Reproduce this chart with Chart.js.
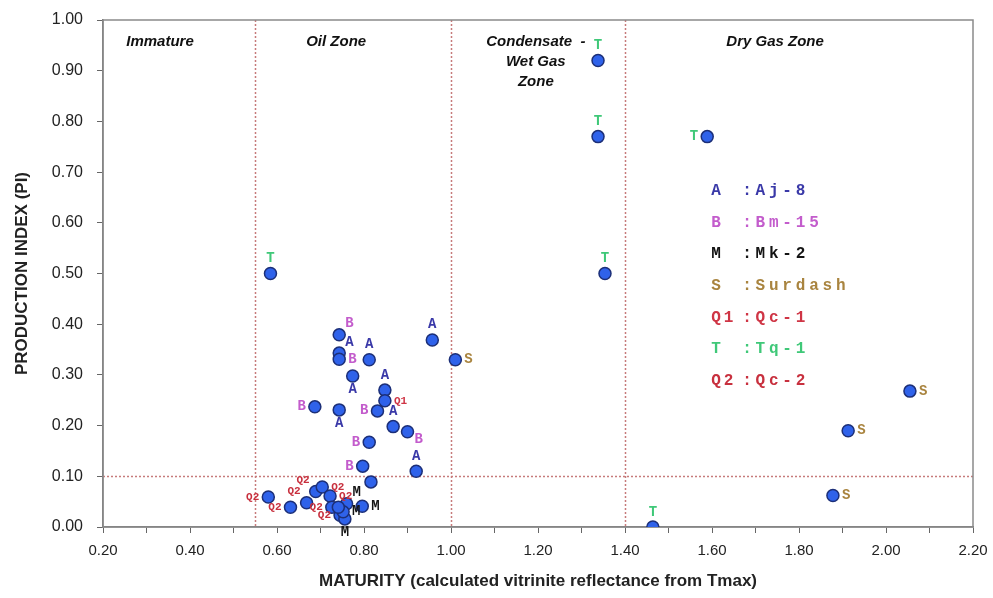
<!DOCTYPE html>
<html><head><meta charset="utf-8">
<script src="https://cdn.jsdelivr.net/npm/chart.js@4/dist/chart.umd.min.js"></script>
<style>html,body{margin:0;padding:0;background:#fff}#wrap{width:993px;height:598px;position:relative}</style>
</head><body><div id="wrap"><canvas id="c" width="993" height="598"></canvas></div>
<script>
// ---- data ----
const maturity = [
  1.338, 1.338, 1.589, 1.354, 0.585, 1.464,
  2.055, 1.913, 1.878, 1.010,
  0.957, 0.743, 0.812, 0.774, 0.848, 0.743, 0.867, 0.920,
  0.743, 0.743, 0.687, 0.831, 0.900, 0.812, 0.797,
  0.848,
  0.580, 0.631, 0.668, 0.689, 0.704, 0.722, 0.726, 0.745,
  0.760, 0.756, 0.752, 0.796,
  0.741, 0.816
];
const productionIndex = [
  0.920, 0.770, 0.770, 0.500, 0.500, 0.000,
  0.268, 0.190, 0.062, 0.330,
  0.369, 0.343, 0.330, 0.298, 0.270, 0.231, 0.198, 0.110,
  0.379, 0.331, 0.237, 0.229, 0.188, 0.167, 0.120,
  0.249,
  0.059, 0.039, 0.048, 0.070, 0.079, 0.061, 0.039, 0.023,
  0.046, 0.016, 0.030, 0.041,
  0.039, 0.089
];
const wellCode = [
  'T','T','T','T','T','T',
  'S','S','S','S',
  'A','A','A','A','A','A','A','A',
  'B','B','B','B','B','B','B',
  'Q1',
  'Q2','Q2','Q2','Q2','Q2','Q2','Q2','Q2',
  'M','M','M','M',
  '',''
];
// side of the point on which its code letter is written
const labelSide = [
  'n','n','w','n','n','n',
  'e','e','e','e',
  'n','ne','n','s','n','s','n','n',
  'ne','e','w','w','se','w','w',
  'e',
  'w','w','nw','nw','e','e','w','w',
  'ne','s','e','e',
  '',''
];
const legendCodes = ['A','B','M','S','Q1','T','Q2'];
const legendNames = ['Aj-8','Bm-15','Mk-2','Surdash','Qc-1','Tq-1','Qc-2'];
const zoneBoundaries = [0.55, 1.00, 1.40];
const piThreshold = 0.10;
const zoneNames = [['Immature'], ['Oil Zone'], ['Condensate  -','Wet Gas','Zone'], ['Dry Gas Zone']];

// ---- styles / layout ----
const codeColors = {A:'#3a39a8', B:'#c35ccc', M:'#141414', S:'#a9843f', Q1:'#cf3545', T:'#3fc878', Q2:'#c8303e'};
const zoneLabelPos = [[0.331,0.957],[0.736,0.957],[1.195,0.957],[1.745,0.957]];
const legendPos = {x:1.598, y:0.663, row:31.7, nameDx:31};
const sideOffset = {n:[0,-15,'center'], s:[0,14,'center'], e:[9,0,'left'], w:[-9,0,'right'],
                    ne:[6,-11,'left'], nw:[-6,-11,'right'], se:[7,8,'left']};
const LABEL_FONT = '"Liberation Mono","Courier New",monospace';
const SANS = '"Liberation Sans",Arial,sans-serif';

function spacedText(ctx, text, x, y, spacing) {
  let cx = x;
  for (const ch of text) { ctx.fillText(ch, cx, y); cx += ctx.measureText(ch).width + spacing; }
}

const overlay = {
  id: 'overlay',
  beforeDatasetsDraw(chart) {
    const {ctx, chartArea: a, scales: {x, y}} = chart;
    ctx.save();
    ctx.strokeStyle = '#c77b7b';
    ctx.lineWidth = 1.5;
    ctx.setLineDash([2, 2]);
    zoneBoundaries.forEach(v => {
      const px = Math.round(x.getPixelForValue(v)) + 0.5;
      ctx.beginPath(); ctx.moveTo(px, a.top); ctx.lineTo(px, a.bottom); ctx.stroke();
    });
    const py = Math.round(y.getPixelForValue(piThreshold)) + 0.5;
    ctx.beginPath(); ctx.moveTo(a.left, py); ctx.lineTo(a.right, py); ctx.stroke();
    ctx.setLineDash([]);
    ctx.strokeStyle = '#8a8a8a';
    ctx.lineWidth = 1.5;
    ctx.strokeRect(a.left, a.top, a.right - a.left, a.bottom - a.top);
    ctx.restore();
  },
  afterDatasetsDraw(chart) {
    const {ctx, scales: {x, y}} = chart;
    ctx.save();
    // point codes
    ctx.textBaseline = 'middle';
    maturity.forEach((mv, i) => {
      const code = wellCode[i];
      if (!code) return;
      const off = sideOffset[labelSide[i]];
      const px = x.getPixelForValue(mv) + off[0];
      const py = y.getPixelForValue(productionIndex[i]) + off[1];
      ctx.font = `bold ${code.length > 1 ? 11 : 14}px ${LABEL_FONT}`;
      ctx.fillStyle = codeColors[code];
      ctx.textAlign = off[2];
      ctx.fillText(code, px, py);
    });
    // zone names
    ctx.fillStyle = '#111';
    ctx.textAlign = 'center';
    ctx.font = `italic bold 15px ${SANS}`;
    zoneNames.forEach((lines, i) => {
      const px = x.getPixelForValue(zoneLabelPos[i][0]);
      const py = y.getPixelForValue(zoneLabelPos[i][1]);
      lines.forEach((t, k) => ctx.fillText(t, px, py + k * 20));
    });
    // code legend
    ctx.textAlign = 'left';
    ctx.font = `bold 16px ${LABEL_FONT}`;
    const lx = x.getPixelForValue(legendPos.x);
    const ly = y.getPixelForValue(legendPos.y);
    legendCodes.forEach((c, i) => {
      ctx.fillStyle = codeColors[c];
      const yy = ly + i * legendPos.row;
      spacedText(ctx, c, lx, yy, 3);
      spacedText(ctx, ':' + legendNames[i], lx + legendPos.nameDx, yy, 3.8);
    });
    ctx.restore();
  }
};

new Chart(document.getElementById('c'), {
  type: 'scatter',
  data: {
    datasets: [{
      data: maturity.map((v, i) => ({x: v, y: productionIndex[i]})),
      pointRadius: 6,
      pointHoverRadius: 6,
      pointBackgroundColor: '#2f62ea',
      pointBorderColor: '#1c2f78',
      pointBorderWidth: 1.5
    }]
  },
  options: {
    responsive: false,
    animation: false,
    devicePixelRatio: 1,
    layout: {padding: {left: 0, right: 20, top: 20, bottom: 0}},
    plugins: {legend: {display: false}, tooltip: {enabled: false}},
    scales: {
      x: {
        type: 'linear', min: 0.2, max: 2.2,
        afterFit(s) { s.height = 71; s.paddingLeft = 0; s.paddingRight = 0; },
        ticks: {
          stepSize: 0.1, autoSkip: false, maxRotation: 0, padding: 9,
          color: '#222', font: {family: SANS, size: 15},
          callback: v => (Math.round(v * 10) % 2 === 0 ? v.toFixed(2) : '')
        },
        grid: {drawOnChartArea: false, drawTicks: true, tickLength: 6, color: '#666'},
        border: {color: '#777', width: 1.5},
        title: {display: true, text: 'MATURITY (calculated vitrinite reflectance from Tmax)',
                color: '#222', font: {family: SANS, size: 17, weight: 'bold'}, padding: {top: 0, bottom: 6}}
      },
      y: {
        type: 'linear', min: 0, max: 1,
        afterFit(s) { s.width = 103; s.paddingTop = 0; s.paddingBottom = 0; },
        ticks: {
          stepSize: 0.1, padding: 14, color: '#222', font: {family: SANS, size: 16},
          callback: v => v.toFixed(2)
        },
        grid: {drawOnChartArea: false, drawTicks: true, tickLength: 6, color: '#666'},
        border: {color: '#777', width: 1.5},
        title: {display: true, text: 'PRODUCTION INDEX (PI)',
                color: '#222', font: {family: SANS, size: 17, weight: 'bold'}, padding: {top: 12, bottom: 0}}
      }
    }
  },
  plugins: [overlay]
});
</script>
</body></html>
